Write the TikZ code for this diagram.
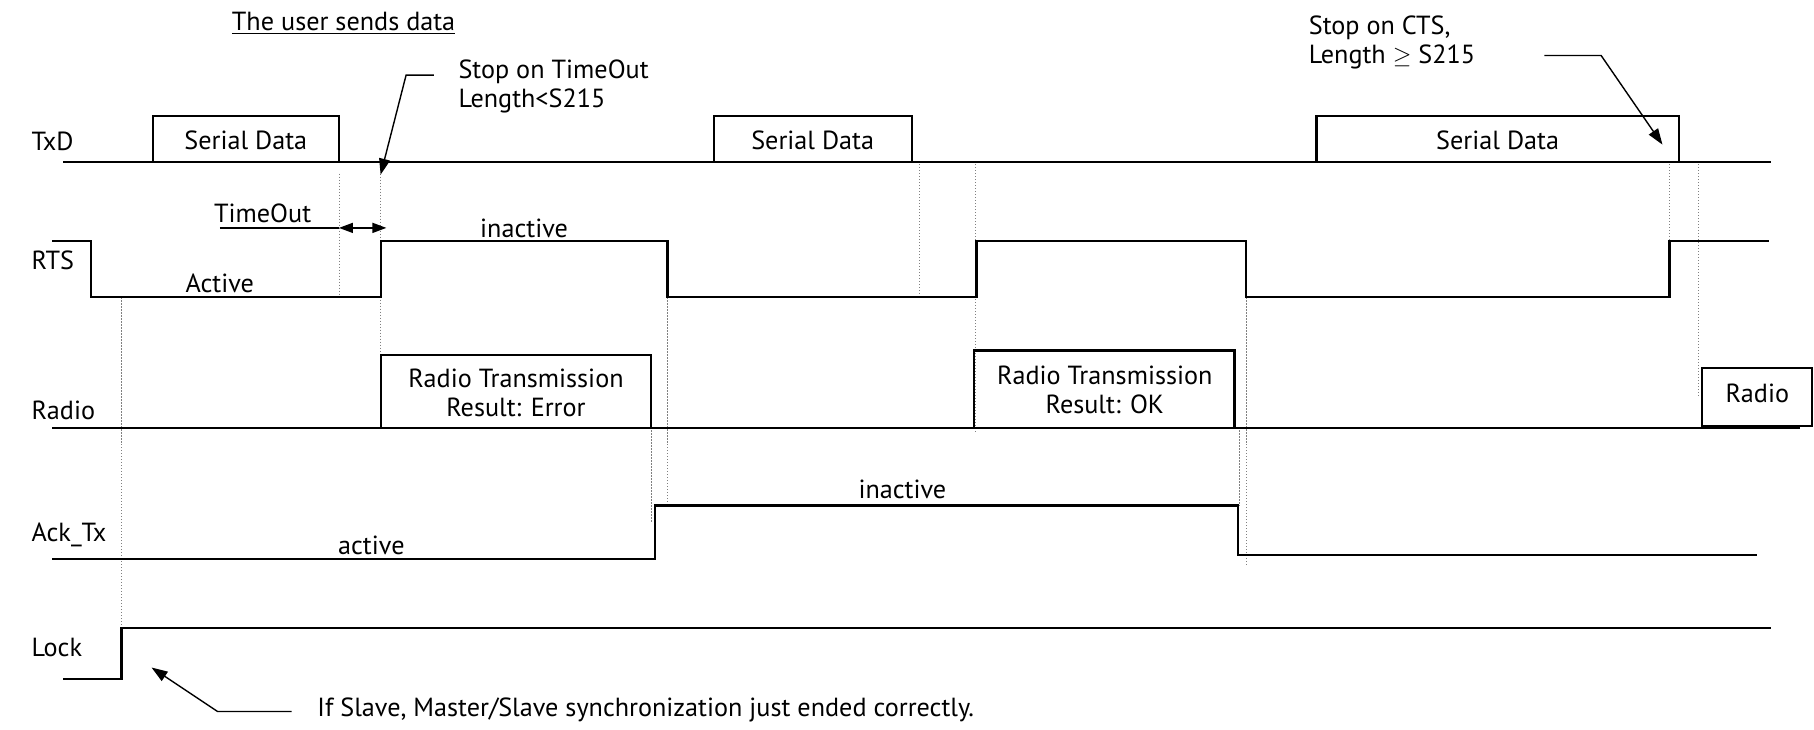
\documentclass[tikz,border=0pt]{standalone}
\usepackage{fontspec}
\setmainfont{PT Sans}
\usetikzlibrary{arrows.meta}
\begin{document}
\begin{tikzpicture}[x=0.5785pt,y=-0.5785pt,
  sig/.style={line width=1.1pt, line join=miter, line cap=rect},
  guide/.style={line width=0.4pt, gray, dash pattern=on 0.6pt off 0.9pt},
  lbl/.style={font=\fontsize{13.1}{14.5}\selectfont, inner sep=0pt},
  ptr/.style={line width=0.7pt, -{Triangle[length=8pt,width=5.5pt]}},
  dim/.style={line width=0.8pt}
  ]
\useasboundingbox (0,0) rectangle (1568,631);

% signal names
\node[lbl, anchor=west] (ltxd)  at (27,122) {TxD};
\node[lbl, anchor=west] (lrts)  at (27,225) {RTS};
\node[lbl, anchor=west] (lrad)  at (27,355) {Radio};
\node[lbl, anchor=west] (lack)  at (27,462) {Ack\_Tx};
\node[lbl, anchor=west] (llock) at (27,560) {Lock};

% guides
\draw[guide] (293,150) -- (293,257);
\draw[guide] (329,150) -- (329,307);
\draw[guide] (105,257) -- (105,543);
\draw[guide] (577,257) -- (577,437);
\draw[guide] (563,372) -- (563,451);
\draw[guide] (795,142) -- (795,257);
\draw[guide] (843,142) -- (843,374);
\draw[guide] (1077,257) -- (1077,489);
\draw[guide] (1071,372) -- (1071,437);
\draw[guide] (1443,142) -- (1443,208);
\draw[guide] (1468,142) -- (1468,344);

% TxD
\draw[sig] (55,140) -- (1530,140);
\draw[sig] (132,140) rectangle (293,100);
\draw[sig] (617,140) rectangle (788,100);
\draw[sig] (1138,140) rectangle (1451,100);
\node[lbl] (sd1) at (212.5,121) {Serial Data};
\node[lbl] (sd2) at (702.5,121) {Serial Data};
\node[lbl] (sd3) at (1294.5,121) {Serial Data};

% RTS
\draw[sig] (46,208) -- (79,208) -- (79,257) -- (329,257) -- (329,208) -- (577,208)
  -- (577,257) -- (844,257) -- (844,208) -- (1077,208) -- (1077,257) -- (1443,257)
  -- (1443,208) -- (1528,208);
\node[lbl] (ract) at (190,245) {Active};
\node[lbl] (rina) at (453,197) {inactive};

% Radio
\draw[sig] (46,370) -- (1555,370);
\draw[sig] (329,370) rectangle (563,307);
\draw[sig] (842,370) rectangle (1067,303);
\draw[sig] (1471,368) rectangle (1566,318);
\node[lbl, align=center] (rt1) at (446,340) {Radio Transmission\\Result: Error};
\node[lbl, align=center] (rt2) at (955,337) {Radio Transmission\\Result: OK};
\node[lbl] (rt3) at (1519,340) {Radio};

% Ack_Tx
\draw[sig] (46,483) -- (566,483) -- (566,437) -- (1070,437) -- (1070,480) -- (1518,480);
\node[lbl] (aact) at (321,471) {active};
\node[lbl] (aina) at (780,423) {inactive};

% Lock
\draw[sig] (55,587) -- (105,587) -- (105,543) -- (1530,543);

% title
\node[lbl] (title) at (297,20) {\underline{The user sends data}};

% TimeOut
\node[lbl] (tout) at (227,184) {TimeOut};
\coordinate (toa) at (190,197);
\coordinate (tob) at (293,197);
\coordinate (toc) at (334,197);
\draw[dim] (toa) -- (tob);
\draw[dim, {Triangle[length=7pt,width=5pt]}-{Triangle[length=7pt,width=5pt]}] (tob) -- (toc);

% Stop on TimeOut
\node[lbl, anchor=west, align=left] (stop1) at (396,75) {Stop on TimeOut\\Length<S215};
\coordinate (p1a) at (375,65);
\coordinate (p1b) at (351,65);
\coordinate (p1c) at (329,151);
\draw[ptr] (p1a) -- (p1b) -- (p1c);

% Stop on CTS
\node[lbl, anchor=west, align=left] (stop2) at (1131,37) {Stop on CTS,\\Length $\geq$ S215};
\coordinate (p2a) at (1335,48);
\coordinate (p2b) at (1384,48);
\coordinate (p2c) at (1437,125);
\draw[ptr] (p2a) -- (p2b) -- (p2c);

% Lock note
\node[lbl, anchor=west] (note) at (274,614) {If Slave, Master/Slave synchronization just ended correctly.};
\coordinate (p3a) at (252,615);
\coordinate (p3b) at (188,615);
\coordinate (p3c) at (131,577);
\draw[ptr] (p3a) -- (p3b) -- (p3c);
\end{tikzpicture}
\end{document}
